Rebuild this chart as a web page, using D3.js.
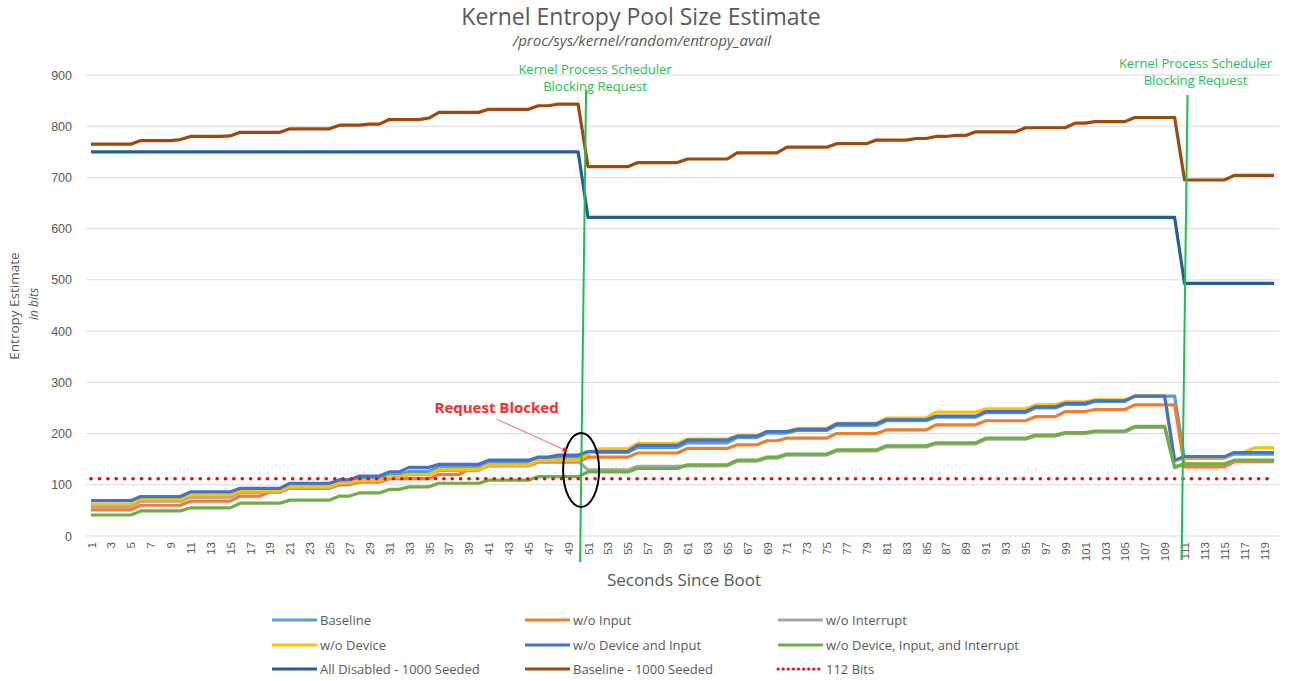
<!DOCTYPE html>
<html>
<head>
<meta charset="utf-8">
<script src="https://cdn.jsdelivr.net/npm/d3@7"></script>
<style>
  body { margin: 0; background: #fff; }
  svg { font-family: "Open Sans", sans-serif; }
  .grid line { stroke: #d9d9d9; }
  .legend text { font-size: 13px; fill: #595959; }
</style>
</head>
<body>
<svg id="chart" width="1291" height="681"></svg>
<script>
// seconds since boot
let seconds = d3.range(1, 121);
let yTicks = [0, 100, 200, 300, 400, 500, 600, 700, 800, 900];
let threshold = 112;

let baseline = [60,60,60,60,60, 70,70,70,70,70, 79,79,79,79,79, 89,89,89,89,89, 98,98,98,98,98,
  106,106,112,112,112, 119,119,126,126,126, 135,135,135,135,135, 144,144,144,144,144, 150,150,154,154,154,
  163,163,163,163,163, 173,173,173,173,173, 182,182,182,182,182, 192,192,192,201,201, 201,206,206,206,206,
  216,216,216,216,216, 225,225,225,225,225, 232,232,232,232,232, 241,241,241,241,241, 250,250,250,257,257,
  257,263,263,263,263, 273,273,273,273,273, 152,152,152,152,152, 160,160,160,160,160];
let noInput = [51,51,51,51,51, 60,60,60,60,60, 68,68,68,68,68, 78,78,78,86,86, 93,93,93,93,93,
  100,100,105,105,105, 112,112,112,112,112, 120,120,120,130,130, 137,137,137,137,137, 144,144,144,144,144,
  154,154,154,154,154, 162,162,162,162,162, 171,171,171,171,171, 178,178,178,186,186, 191,191,191,191,191,
  200,200,200,200,200, 207,207,207,207,207, 217,217,217,217,217, 225,225,225,225,225, 233,233,233,243,243,
  243,247,247,247,247, 256,256,256,256,256, 135,135,135,135,135, 145,145,145,145,145];
let noInterrupt = [58,58,58,58,58, 68,68,68,68,68, 76,76,76,76,76, 85,85,85,85,85, 94,94,94,94,94,
  102,102,108,108,108, 114,114,120,120,120, 128,128,128,128,128, 138,138,138,138,138, 146,146,146,146,146,
  129,129,129,129,129, 136,136,136,136,136, 137,137,137,137,137, 146,146,146,152,152, 158,158,158,158,158,
  166,166,166,166,166, 174,174,174,174,174, 180,180,180,180,180, 189,189,189,189,189, 195,195,195,200,200,
  200,203,203,203,203, 212,212,212,212,133, 140,140,140,140,140, 147,147,147,147,147];
let noDevice = [62,62,62,62,62, 72,72,72,72,72, 80,80,80,80,80, 88,88,88,88,88, 96,96,96,96,96,
  104,104,108,108,108, 116,116,120,120,120, 130,130,130,130,130, 139,139,139,139,139, 148,148,148,148,148,
  160,170,170,170,170, 181,181,181,181,181, 189,189,189,189,189, 196,196,196,204,204, 204,210,210,210,210,
  220,220,220,220,220, 230,230,230,230,230, 242,242,242,242,242, 248,248,248,248,248, 256,256,256,262,262,
  262,266,266,266,266, 273,273,273,273,146, 153,153,153,153,153, 163,163,172,172,172];
let noDevInput = [69,69,69,69,69, 77,77,77,77,77, 86,86,86,86,86, 93,93,93,93,93, 103,103,103,103,103,
  110,110,117,117,117, 125,125,134,134,134, 140,140,140,140,140, 148,148,148,148,148, 154,154,158,158,158,
  165,165,165,165,165, 177,177,177,177,177, 187,187,187,187,187, 195,195,195,204,204, 204,208,208,208,208,
  219,219,219,219,219, 227,227,227,227,227, 234,234,234,234,234, 243,243,243,243,243, 252,252,252,259,259,
  259,264,264,264,264, 273,273,273,273,148, 155,155,155,155,155, 163,163,163,163,163];
let noDevInputInt = [41,41,41,41,41, 49,49,49,49,49, 55,55,55,55,55, 64,64,64,64,64, 70,70,70,70,70,
  78,78,84,84,84, 91,91,96,96,96, 103,103,103,103,103, 109,109,109,109,109, 116,116,116,116,116,
  125,125,125,125,125, 132,132,132,132,132, 139,139,139,139,139, 148,148,148,154,154, 160,160,160,160,160,
  168,168,168,168,168, 176,176,176,176,176, 182,182,182,182,182, 191,191,191,191,191, 197,197,197,202,202,
  202,205,205,205,205, 214,214,214,214,135, 141,141,141,141,141, 148,148,148,148,148];
let allDisabled = [750,750,750,750,750, 750,750,750,750,750, 750,750,750,750,750, 750,750,750,750,750, 750,750,750,750,750,
  750,750,750,750,750, 750,750,750,750,750, 750,750,750,750,750, 750,750,750,750,750, 750,750,750,750,750,
  622,622,622,622,622, 622,622,622,622,622, 622,622,622,622,622, 622,622,622,622,622, 622,622,622,622,622,
  622,622,622,622,622, 622,622,622,622,622, 622,622,622,622,622, 622,622,622,622,622, 622,622,622,622,622,
  622,622,622,622,622, 622,622,622,622,622, 493,493,493,493,493, 493,493,493,493,493];
let baselineSeeded = [765,765,765,765,765, 772,772,772,772,774, 780,780,780,780,781, 788,788,788,788,788, 795,795,795,795,795,
  802,802,802,804,804, 813,813,813,813,816, 827,827,827,827,827, 833,833,833,833,833, 840,840,843,843,843,
  721,721,721,721,721, 729,729,729,729,729, 736,736,736,736,736, 748,748,748,748,748, 759,759,759,759,759,
  766,766,766,766,773, 773,773,773,776,776, 780,780,782,782,789, 789,789,789,789,797, 797,797,797,797,806,
  806,809,809,809,809, 817,817,817,817,817, 695,695,695,695,695, 704,704,704,704,704];

let series = [
  { name: "Baseline", values: baseline, color: "#5b9bd5" },
  { name: "w/o Input", values: noInput, color: "#ed7d31" },
  { name: "w/o Interrupt", values: noInterrupt, color: "#a5a5a5" },
  { name: "w/o Device", values: noDevice, color: "#ffc000" },
  { name: "w/o Device and Input", values: noDevInput, color: "#4472c4" },
  { name: "w/o Device, Input, and Interrupt", values: noDevInputInt, color: "#70ad47" },
  { name: "All Disabled - 1000 Seeded", values: allDisabled, color: "#255e91" },
  { name: "Baseline - 1000 Seeded", values: baselineSeeded, color: "#9e480e" }
];

// scheduler block events: top / bottom end of the marker line, label anchor
let blocks = [
  { top: [50.8, 871], bottom: [50.2, -51], label: [51.7, 901] },
  { top: [111.3, 861], bottom: [110.7, -47], label: [112.1, 913] }
];

const svg = d3.select("#chart");
const plotLeft = 86, plotRight = 1279, plotTop = 75, plotBottom = 536;

let x = d3.scaleLinear().domain([0.5, 120.5]).range([plotLeft, plotRight]);
let y = d3.scaleLinear().domain([0, 900]).range([plotBottom, plotTop]);

// gridlines
svg.append("g")
  .attr("class", "grid")
  .selectAll("line")
  .data(yTicks)
  .enter()
  .append("line")
  .attr("x1", plotLeft).attr("x2", plotRight)
  .attr("y1", d => y(d)).attr("y2", d => y(d));

// y axis labels
let yAxis = d3.axisLeft(y).tickValues(yTicks).tickSize(0).tickPadding(14);
svg.append("g")
  .attr("transform", `translate(${plotLeft},0)`)
  .call(yAxis)
  .call(g => g.select(".domain").remove())
  .selectAll("text")
  .style("font-size", "12.5px")
  .style("fill", "#595959");

// x axis, odd seconds, rotated
let xAxis = d3.axisBottom(x).tickValues(seconds.filter(d => d % 2 == 1)).tickSize(0).tickPadding(0);
svg.append("g")
  .attr("transform", `translate(0,${plotBottom})`)
  .call(xAxis)
  .call(g => g.select(".domain").remove())
  .selectAll("text")
  .attr("transform", "rotate(-90)")
  .attr("x", -6)
  .attr("y", 0)
  .attr("dy", "0.35em")
  .style("text-anchor", "end")
  .style("font-size", "11.5px")
  .style("fill", "#595959");

// lines
let line = d3.line()
  .x((d, i) => x(seconds[i]))
  .y(d => y(d));

svg.append("g")
  .selectAll("path")
  .data(series)
  .enter()
  .append("path")
  .attr("d", d => line(d.values))
  .attr("fill", "none")
  .attr("stroke", d => d.color)
  .attr("stroke-width", 3.2)
  .attr("stroke-linejoin", "round");

// 112 bits threshold
svg.append("line")
  .attr("x1", x(1)).attr("x2", x(120))
  .attr("y1", y(threshold)).attr("y2", y(threshold))
  .attr("stroke", "#ff0000")
  .attr("stroke-width", 3.5)
  .attr("stroke-linecap", "round")
  .attr("stroke-dasharray", "0.1 8.3");

// scheduler annotations
blocks.forEach(b => {
  svg.append("line")
    .attr("x1", x(b.top[0])).attr("y1", y(b.top[1]))
    .attr("x2", x(b.bottom[0])).attr("y2", y(b.bottom[1]))
    .attr("stroke", "#1fbf4f")
    .attr("stroke-width", 2);
  let t = svg.append("text")
    .attr("x", x(b.label[0]))
    .attr("y", y(b.label[1]))
    .attr("text-anchor", "middle")
    .style("font-size", "13px")
    .style("fill", "#22c05a");
  t.append("tspan").attr("x", x(b.label[0])).text("Kernel Process Scheduler");
  t.append("tspan").attr("x", x(b.label[0])).attr("dy", 16.5).text("Blocking Request");
});

// request blocked callout
svg.append("ellipse")
  .attr("cx", x(50.3)).attr("cy", y(129))
  .attr("rx", 18).attr("ry", 37)
  .attr("fill", "none")
  .attr("stroke", "#000")
  .attr("stroke-width", 2);

svg.append("defs").append("marker")
  .attr("id", "arrow")
  .attr("viewBox", "0 0 10 10")
  .attr("refX", 9).attr("refY", 5)
  .attr("markerWidth", 5).attr("markerHeight", 5)
  .attr("orient", "auto")
  .append("path")
  .attr("d", "M0,0L10,5L0,10z")
  .attr("fill", "#ff2020");

svg.append("line")
  .attr("x1", x(41.8)).attr("y1", y(228))
  .attr("x2", x(48.9)).attr("y2", y(166))
  .attr("stroke", "#ff6060")
  .attr("stroke-width", 1)
  .attr("marker-end", "url(#arrow)");

svg.append("text")
  .attr("x", x(41.8)).attr("y", y(241))
  .attr("text-anchor", "middle")
  .style("font-size", "15px")
  .style("font-weight", "bold")
  .style("fill", "#ff2a2a")
  .text("Request Blocked");

// titles
svg.append("text")
  .attr("x", 641).attr("y", 25)
  .attr("text-anchor", "middle")
  .style("font-size", "23px")
  .style("fill", "#595959")
  .text("Kernel Entropy Pool Size Estimate");

svg.append("text")
  .attr("x", 642).attr("y", 46)
  .attr("text-anchor", "middle")
  .style("font-size", "15px")
  .style("font-style", "italic")
  .style("fill", "#595959")
  .text("/proc/sys/kernel/random/entropy_avail");

svg.append("text")
  .attr("x", 684).attr("y", 586)
  .attr("text-anchor", "middle")
  .style("font-size", "17px")
  .style("fill", "#595959")
  .text("Seconds Since Boot");

svg.append("text")
  .attr("transform", "translate(19,306) rotate(-90)")
  .attr("text-anchor", "middle")
  .style("font-size", "13.5px")
  .style("fill", "#595959")
  .text("Entropy Estimate");

svg.append("text")
  .attr("transform", "translate(38,304) rotate(-90)")
  .attr("text-anchor", "middle")
  .style("font-size", "12px")
  .style("font-style", "italic")
  .style("fill", "#595959")
  .text("in bits");

// legend, 3 columns
let legendItems = series.map(s => ({ name: s.name, color: s.color, dash: null }))
  .concat([{ name: "112 Bits", color: "#ff0000", dash: "0.1 5" }]);
let colX = [272, 525, 778];
let rowY = [620, 645, 669];

let legend = svg.append("g").attr("class", "legend")
  .selectAll("g")
  .data(legendItems)
  .enter()
  .append("g")
  .attr("transform", (d, i) => `translate(${colX[i % 3]},${rowY[Math.floor(i / 3)]})`);

legend.append("line")
  .attr("x1", 0).attr("x2", 45)
  .attr("stroke", d => d.color)
  .attr("stroke-width", d => d.dash ? 3 : 3.2)
  .attr("stroke-linecap", d => d.dash ? "round" : "butt")
  .attr("stroke-dasharray", d => d.dash);

legend.append("text")
  .attr("x", 48)
  .attr("dy", "0.35em")
  .text(d => d.name);
</script>
</body>
</html>
